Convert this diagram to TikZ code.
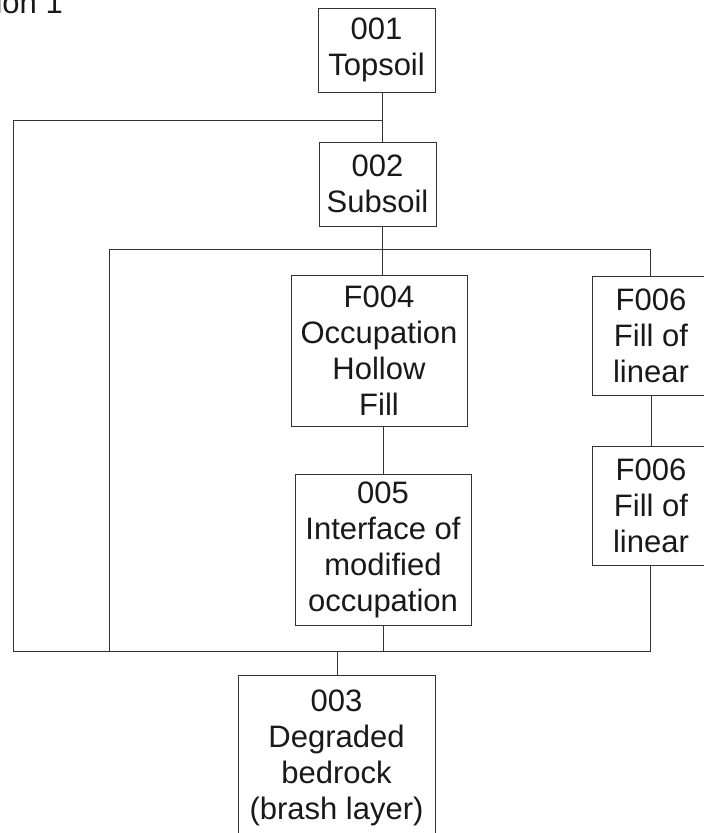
\documentclass[tikz,border=0pt]{standalone}
\usepackage{fontspec}
\setmainfont{Liberation Sans}

\begin{document}
\begin{tikzpicture}[x=1pt, y=-1pt,
   context/.style={rectangle, draw=black!80, line width=0.9pt, align=center, inner sep=0pt,
      font=\fontsize{31}{36}\selectfont, text=black!90},
   link/.style={draw=black!80, line width=0.9pt}]
\clip (0,0) rectangle (704,833);

\node[anchor=base east, inner sep=0pt, font=\fontsize{31}{36}\selectfont, text=black!90] (title) at (63, 13) {ion 1};

\node[context, minimum width=117, minimum height=84] (c001) at (376.5, 50) {001\\Topsoil};

\node[context, minimum width=117, minimum height=84] (c002) at (377.5, 184) {002\\Subsoil};

\node[context, minimum width=176, minimum height=151] (f004) at (379, 350.5) {F004\\Occupation\\Hollow\\Fill};

\node[context, minimum width=176, minimum height=151] (c005) at (383, 549.5) {005\\Interface of\\modified\\occupation};

\node[context, minimum width=118, minimum height=119] (f006a) at (651, 335.5) {F006\\Fill of\\linear};

\node[context, minimum width=118, minimum height=119] (f006b) at (651, 505.5) {F006\\Fill of\\linear};

\node[context, minimum width=197, minimum height=165] (c003) at (336.5, 757.5) {003\\Degraded\\bedrock\\(brash layer)};

\coordinate (j1) at (382, 120);
\coordinate (w1) at (13, 120);
\coordinate (j2) at (382, 249);
\coordinate (w2) at (109, 249);
\coordinate (e2) at (650, 249);
\coordinate (w3) at (13, 651);
\coordinate (m3) at (109, 651);
\coordinate (j3) at (337, 651);
\coordinate (k3) at (383, 651);
\coordinate (e3) at (650, 651);

\draw[link] (c001.south -| j1) -- (c002.north -| j1);
\draw[link] (j1) -- (w1) -- (w3) -- (e3) -- (f006b.south -| e3);
\draw[link] (c002.south -| j2) -- (f004.north -| j2);
\draw[link] (w2) -- (e2) -- (f006a.north -| e2);
\draw[link] (w2) -- (m3);
\draw[link] (f006a) -- (f006b);
\draw[link] (f004.south -| k3) -- (c005.north -| k3);
\draw[link] (c005.south -| k3) -- (k3);
\draw[link] (j3) -- (c003.north -| j3);
%\draw[link] (c003.south) -- ++(0, 20);

\end{tikzpicture}
\end{document}
